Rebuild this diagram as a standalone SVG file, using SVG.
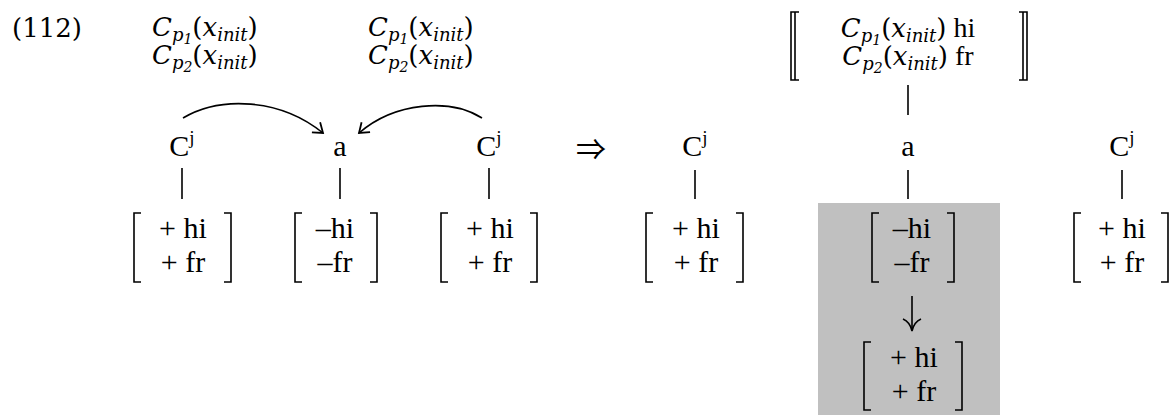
<svg xmlns="http://www.w3.org/2000/svg" width="1172" height="415" viewBox="0 0 1172 415">
<style>
.t{font-family:"Liberation Serif",serif;font-size:30px;fill:#000}
.ann{font-family:"DejaVu Serif",serif;font-size:26px;font-style:italic;fill:#000}
.sub{font-size:18px}
.ss{font-size:14px}
.up{font-style:normal}
.rom{font-family:"Liberation Serif",serif;font-style:normal;font-size:28px}
.num{font-family:"DejaVu Serif",serif;font-size:26px;fill:#000}
.br{fill:none;stroke:#000;stroke-width:1.6}
.ln{stroke:#000;stroke-width:1.6;fill:none}
</style>
<defs>
<marker id="ah" markerUnits="userSpaceOnUse" markerWidth="16" markerHeight="16" refX="12" refY="8" orient="auto">
<path d="M3,1.5 L12,8 L3,14.5" fill="none" stroke="#000" stroke-width="1.8"/>
</marker>
</defs>
<rect x="818" y="203" width="182" height="212" fill="#c0c0c0"/>
<text class="num" x="12" y="37">(112)</text>
<g id="ann1">
<text class="ann" x="152" y="36">C<tspan class="sub" dy="5">p</tspan><tspan class="ss" dy="3">1</tspan><tspan class="up" dy="-8">(</tspan>x<tspan class="sub" dy="5">init</tspan><tspan class="up" dy="-5">)</tspan></text>
<text class="ann" x="152" y="64">C<tspan class="sub" dy="5">p</tspan><tspan class="ss" dy="3">2</tspan><tspan class="up" dy="-8">(</tspan>x<tspan class="sub" dy="5">init</tspan><tspan class="up" dy="-5">)</tspan></text>
</g>
<g id="ann2">
<text class="ann" x="368" y="36">C<tspan class="sub" dy="5">p</tspan><tspan class="ss" dy="3">1</tspan><tspan class="up" dy="-8">(</tspan>x<tspan class="sub" dy="5">init</tspan><tspan class="up" dy="-5">)</tspan></text>
<text class="ann" x="368" y="64">C<tspan class="sub" dy="5">p</tspan><tspan class="ss" dy="3">2</tspan><tspan class="up" dy="-8">(</tspan>x<tspan class="sub" dy="5">init</tspan><tspan class="up" dy="-5">)</tspan></text>
</g>
<g id="connectors">
<path class="ln" d="M183,118 C220,96 280,98 323,133" marker-end="url(#ah)"/>
<path class="ln" d="M482,118 C450,98 395,102 359,133" marker-end="url(#ah)"/>
<line class="ln" x1="182" y1="168" x2="182" y2="199"/>
<line class="ln" x1="340" y1="168" x2="340" y2="199"/>
<line class="ln" x1="489" y1="168" x2="489" y2="199"/>
<line class="ln" x1="695" y1="170" x2="695" y2="199"/>
<line class="ln" x1="908" y1="170" x2="908" y2="199"/>
<line class="ln" x1="1122" y1="170" x2="1122" y2="199"/>
<line class="ln" x1="908" y1="85" x2="908" y2="115"/>
<line class="ln" x1="912" y1="296" x2="912" y2="330"/>
<path class="ln" d="M903,319 Q910,322 912,331 Q914,322 921,319"/>
</g>
<g id="L1">
<text class="t" x="182" y="156" text-anchor="middle">C<tspan font-size="19" dy="-12">j</tspan></text>
<path class="br" d="M141,213 H134 V282 H141 M224,213 H231 V282 H224"/>
<text class="t" x="183" y="238" text-anchor="middle">+ hi</text>
<text class="t" x="183" y="272" text-anchor="middle">+ fr</text>
</g>
<g id="L2">
<text class="t" x="340" y="156" text-anchor="middle">a</text>
<path class="br" d="M302,213 H295 V282 H302 M370,213 H377 V282 H370"/>
<text class="t" x="335" y="238" text-anchor="middle">–hi</text>
<text class="t" x="335" y="272" text-anchor="middle">–fr</text>
</g>
<g id="L3">
<text class="t" x="489" y="156" text-anchor="middle">C<tspan font-size="19" dy="-12">j</tspan></text>
<path class="br" d="M448,213 H441 V282 H448 M530,213 H537 V282 H530"/>
<text class="t" x="490" y="238" text-anchor="middle">+ hi</text>
<text class="t" x="490" y="272" text-anchor="middle">+ fr</text>
</g>
<text id="impl" x="591" y="160" text-anchor="middle" font-family="Noto Sans CJK JP,DejaVu Sans,sans-serif" font-size="30">⇒</text>
<g id="R1">
<text class="t" x="695" y="156" text-anchor="middle">C<tspan font-size="19" dy="-12">j</tspan></text>
<path class="br" d="M653,213 H646 V282 H653 M736,213 H743 V282 H736"/>
<text class="t" x="696" y="238" text-anchor="middle">+ hi</text>
<text class="t" x="696" y="272" text-anchor="middle">+ fr</text>
</g>
<g id="R2top">
<path class="br" d="M799,12 H791 V80 H799 M795,12 V80 M1019,12 H1027 V80 H1019 M1023,12 V80"/>
<text class="ann" x="908" y="37" text-anchor="middle">C<tspan class="sub" dy="5">p</tspan><tspan class="ss" dy="3">1</tspan><tspan class="up" dy="-8">(</tspan>x<tspan class="sub" dy="5">init</tspan><tspan class="up" dy="-5">)</tspan><tspan class="rom"> hi</tspan></text>
<text class="ann" x="908" y="65" text-anchor="middle">C<tspan class="sub" dy="5">p</tspan><tspan class="ss" dy="3">2</tspan><tspan class="up" dy="-8">(</tspan>x<tspan class="sub" dy="5">init</tspan><tspan class="up" dy="-5">)</tspan><tspan class="rom"> fr</tspan></text>
</g>
<g id="R2">
<text class="t" x="908" y="156" text-anchor="middle">a</text>
<path class="br" d="M879,213 H872 V282 H879 M947,213 H954 V282 H947"/>
<text class="t" x="912" y="238" text-anchor="middle">–hi</text>
<text class="t" x="912" y="272" text-anchor="middle">–fr</text>
<path class="br" d="M871,342 H864 V410 H871 M955,342 H962 V410 H955"/>
<text class="t" x="914" y="367" text-anchor="middle">+ hi</text>
<text class="t" x="914" y="401" text-anchor="middle">+ fr</text>
</g>
<g id="R3">
<text class="t" x="1122" y="156" text-anchor="middle">C<tspan font-size="19" dy="-12">j</tspan></text>
<path class="br" d="M1081,213 H1074 V282 H1081 M1161,213 H1168 V282 H1161"/>
<text class="t" x="1122" y="238" text-anchor="middle">+ hi</text>
<text class="t" x="1122" y="272" text-anchor="middle">+ fr</text>
</g>
</svg>
